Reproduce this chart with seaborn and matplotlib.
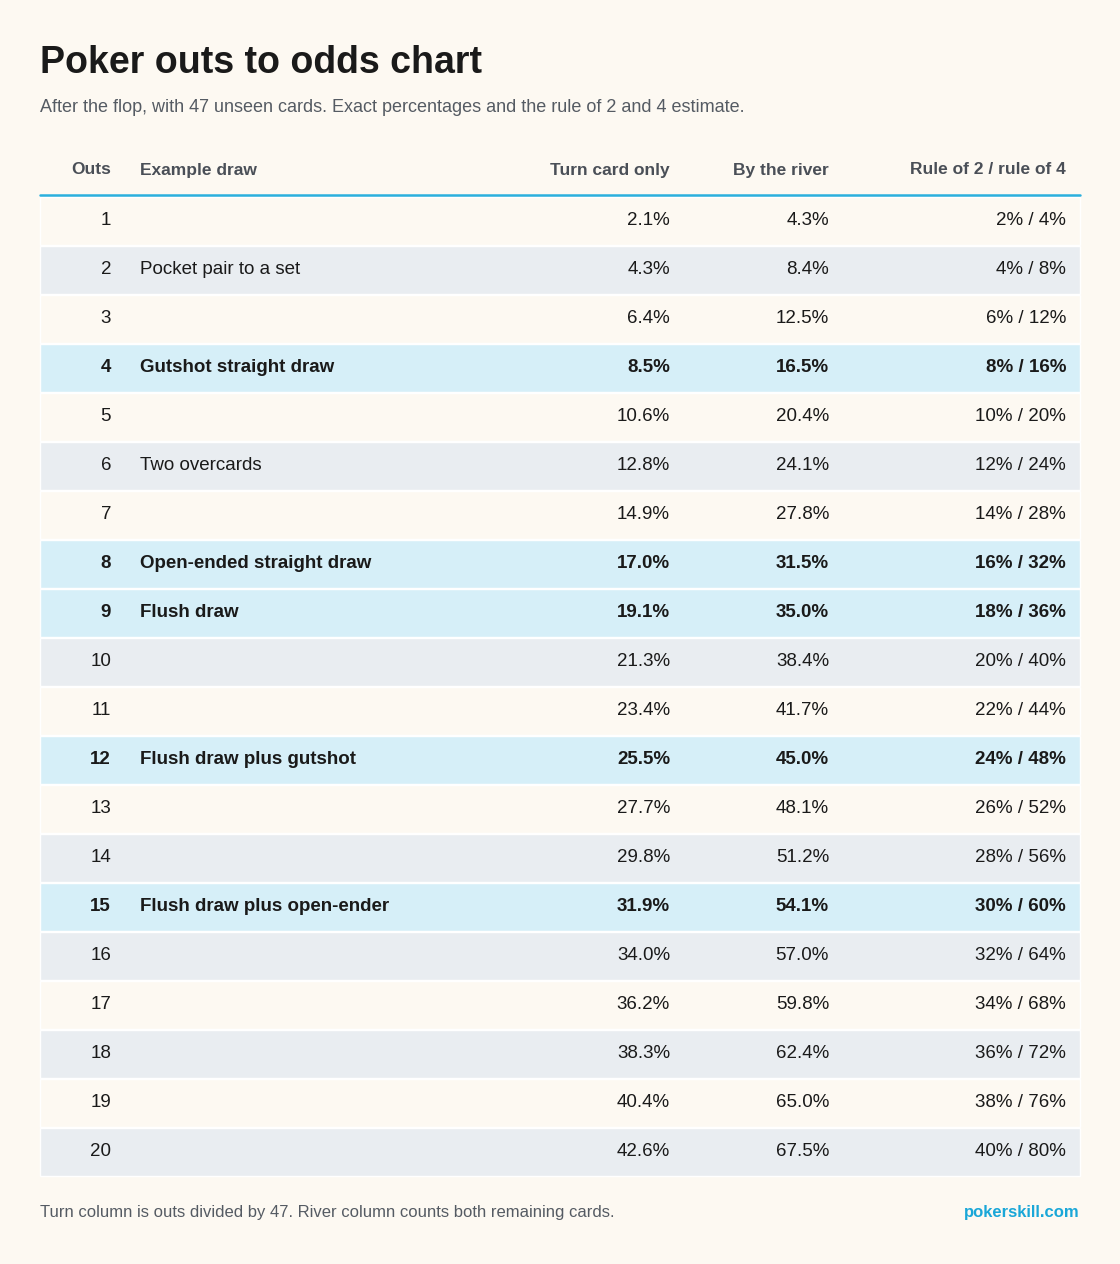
import matplotlib.pyplot as plt
import seaborn as sns
import numpy as np

outs = list(range(1, 21))
draws = {2: "Pocket pair to a set", 4: "Gutshot straight draw", 6: "Two overcards",
         8: "Open-ended straight draw", 9: "Flush draw", 12: "Flush draw plus gutshot",
         15: "Flush draw plus open-ender"}
highlight = [4, 8, 9, 12, 15]
turn = [2.1, 4.3, 6.4, 8.5, 10.6, 12.8, 14.9, 17.0, 19.1, 21.3,
        23.4, 25.5, 27.7, 29.8, 31.9, 34.0, 36.2, 38.3, 40.4, 42.6]
river = [4.3, 8.4, 12.5, 16.5, 20.4, 24.1, 27.8, 31.5, 35.0, 38.4,
         41.7, 45.0, 48.1, 51.2, 54.1, 57.0, 59.8, 62.4, 65.0, 67.5]
rule2 = [2 * n for n in outs]
rule4 = [4 * n for n in outs]

sns.set_style('white')
plt.rcParams['font.family'] = ['Liberation Sans', 'DejaVu Sans']

bg = '#fdf9f2'
fig = plt.figure(figsize=(11.2, 12.64), dpi=100, facecolor=bg)
ax = fig.add_axes([0, 0, 1, 1])
ax.set_facecolor(bg)
ax.set_xlim(0, 1120)
ax.set_ylim(1264, 0)
ax.axis('off')

row_h = 49
top = 196
centers = [top + row_h * i + row_h / 2 for i in range(len(outs))]
colors = []
for n in outs:
    if n in highlight:
        colors.append('#d6eff8')
    elif n % 2 == 0:
        colors.append('#e9edf1')
    else:
        colors.append(bg)
ax.barh(centers, [1040] * len(outs), left=40, height=row_h - 1, color=colors, zorder=1)

ax.text(40, 63, "Poker outs to odds chart", fontsize=27, fontweight='bold', color='#1a1a1a', va='center')
ax.text(40, 107, "After the flop, with 47 unseen cards. Exact percentages and the rule of 2 and 4 estimate.",
        fontsize=13, color='#555b63', va='center')

hdr_y = 170
hkw = dict(fontsize=12.5, fontweight='bold', color='#4a4f57', va='center')
ax.text(111, hdr_y, "Outs", ha='right', **hkw)
ax.text(140, hdr_y, "Example draw", ha='left', **hkw)
ax.text(670, hdr_y, "Turn card only", ha='right', **hkw)
ax.text(829, hdr_y, "By the river", ha='right', **hkw)
ax.text(1066, hdr_y, "Rule of 2 / rule of 4", ha='right', **hkw)
ax.plot([40, 1080], [195, 195], color='#2bb0de', lw=1.8, zorder=3)

for i, n in enumerate(outs):
    y = centers[i]
    w = 'bold' if n in highlight else 'normal'
    kw = dict(fontsize=13.5, fontweight=w, color='#1a1a1a', va='center', zorder=4)
    ax.text(111, y, str(n), ha='right', **kw)
    if n in draws:
        ax.text(140, y, draws[n], ha='left', **kw)
    ax.text(670, y, f"{turn[i]:.1f}%", ha='right', **kw)
    ax.text(829, y, f"{river[i]:.1f}%", ha='right', **kw)
    ax.text(1066, y, f"{rule2[i]}% / {rule4[i]}%", ha='right', **kw)

ax.text(40, 1213, "Turn column is outs divided by 47. River column counts both remaining cards.",
        fontsize=12, color='#555b63', va='center')
ax.text(1080, 1213, "pokerskill.com", fontsize=12, fontweight='bold', color='#1aa7d8',
        ha='right', va='center')

fig.savefig('out.png', dpi=100, facecolor=bg)
